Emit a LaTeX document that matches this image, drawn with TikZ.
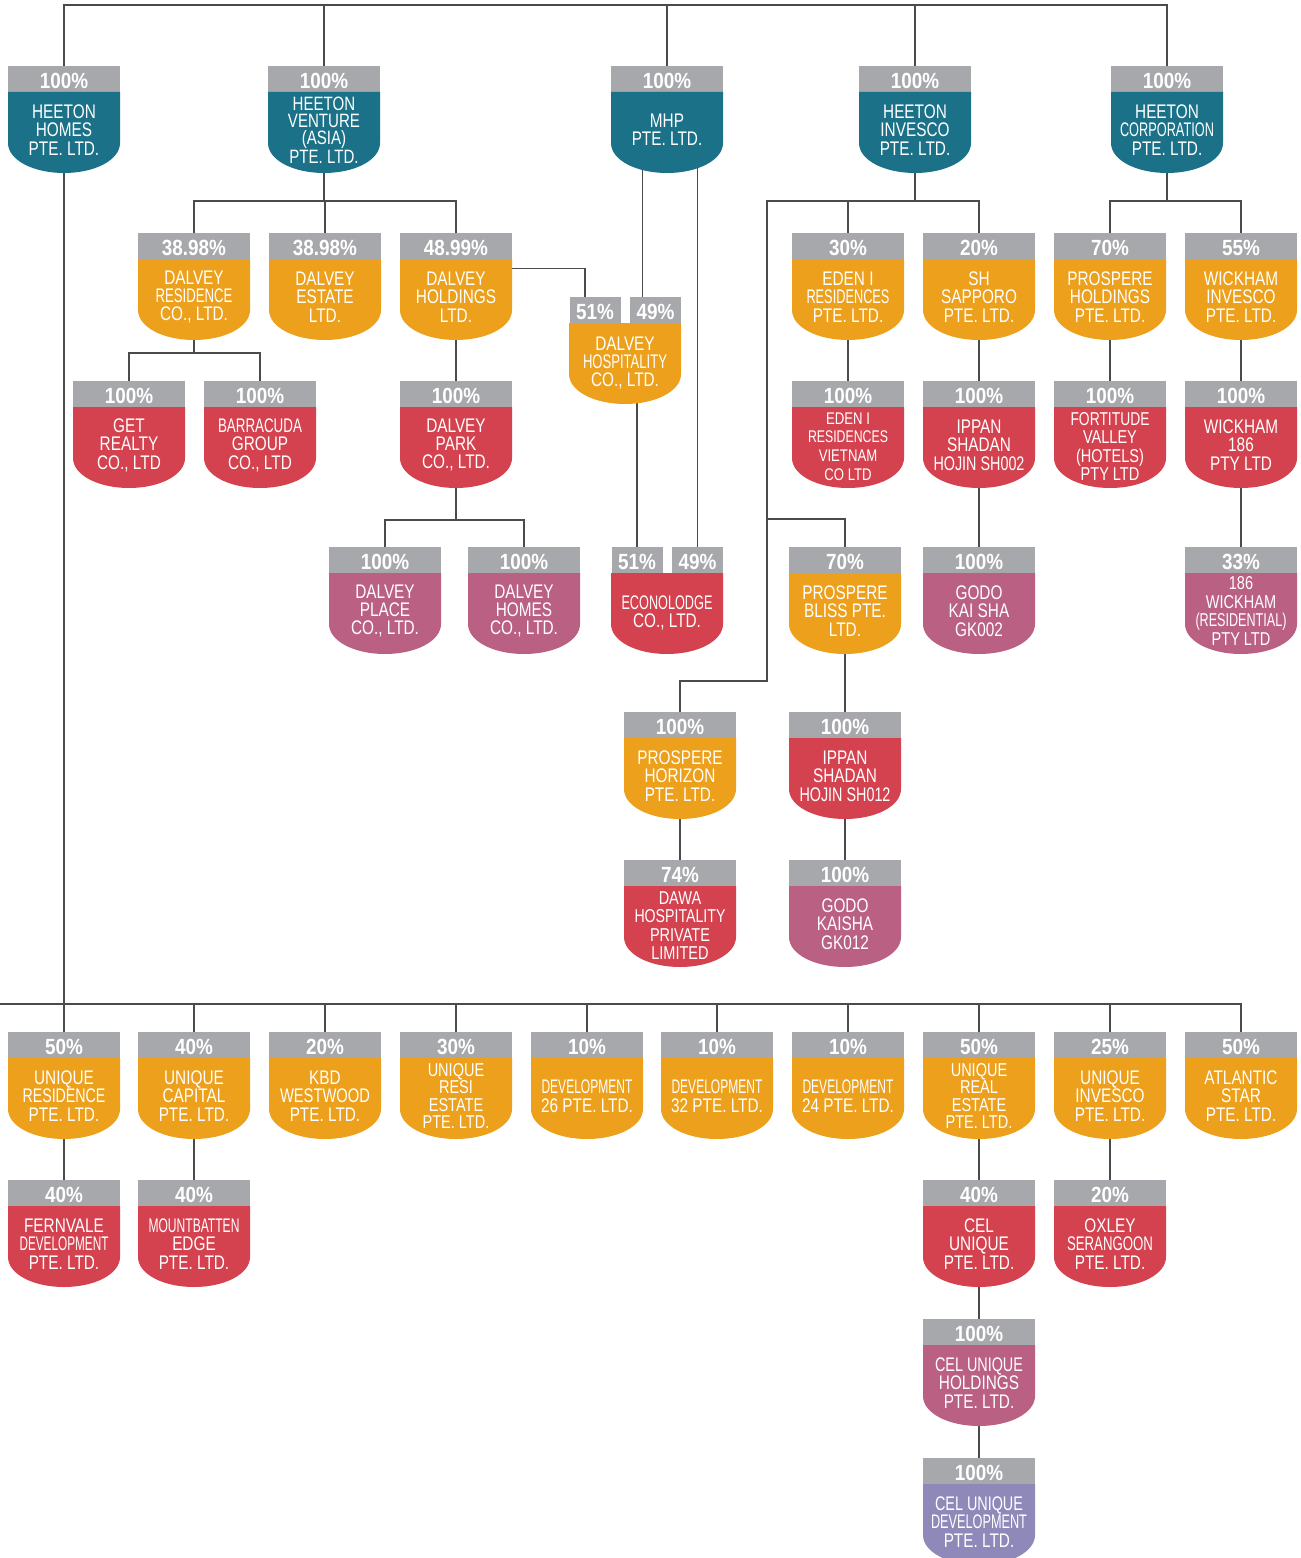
\documentclass[tikz,border=0pt]{standalone}
\usepackage{fontspec}
\setmainfont{Liberation Sans}[FakeStretch=0.78]
\newfontfamily\pctfont{Liberation Sans}[FakeStretch=0.86]
\usepackage{tikz}
\usetikzlibrary{calc}
\usetikzlibrary{backgrounds}
\definecolor{htteal}{RGB}{27,114,136}
\definecolor{htorange}{RGB}{236,160,28}
\definecolor{htred}{RGB}{212,66,79}
\definecolor{htpink}{RGB}{186,96,131}
\definecolor{htpurple}{RGB}{143,137,186}
\definecolor{htgrey}{RGB}{167,168,171}
\definecolor{htwire}{RGB}{75,75,75}
\tikzstyle{pcthead} = [anchor=north, fill=htgrey, text=white, inner sep=0pt,
minimum width=2.24cm, minimum height=0.52cm, text height=10pt, text depth=0pt,
font=\pctfont\bfseries\fontsize{12.5}{12.5}\selectfont]
\tikzstyle{firmname} = [align=center, text=white, inner sep=0pt,
font=\fontsize{11.2}{10.5}\selectfont]
\tikzstyle{fourline} = [font=\fontsize{10.6}{10.5}\selectfont]
\tikzstyle{line} = [draw, line width=0.8pt, htwire]
%% squeeze one long line of a name to a width
\newsavebox\fitbox
\newcommand{\fit}[2][1.8cm]{\sbox\fitbox{#2}%
  \ifdim\wd\fitbox>#1\resizebox{#1}{\height}{#2}\else\usebox\fitbox\fi}
%% one company: [name opts]{id}{x}{y}{share}{colour}{name}
\newcommand{\firm}[7][]{%
  \node[pcthead] (#2-p) at (#3,#4) {#5};
  \fill[#6] (#3-56,#4+26) -- (#3-56,#4+77)
    .. controls (#3-56,#4+94) and (#3-31,#4+107) .. (#3,#4+107)
    .. controls (#3+31,#4+107) and (#3+56,#4+94) .. (#3+56,#4+77)
    -- (#3+56,#4+26) -- cycle;
  \node[firmname,#1] (#2) at (#3,#4+64) {#7};
  \coordinate (#2-s) at (#3,#4+100);
}
%% company with two holders: {id}{x}{y}{left share}{right share}{colour}{name}
\newcommand{\firmsplit}[7]{%
  \node[pcthead, minimum width=1.02cm] (#1-l) at (#2-30,#3) {#4};
  \node[pcthead, minimum width=1.02cm] (#1-r) at (#2+30.5,#3) {#5};
  \fill[#6] (#2-56,#3+26) -- (#2-56,#3+77)
    .. controls (#2-56,#3+94) and (#2-31,#3+107) .. (#2,#3+107)
    .. controls (#2+31,#3+107) and (#2+56,#3+94) .. (#2+56,#3+77)
    -- (#2+56,#3+26) -- cycle;
  \node[firmname] (#1) at (#2,#3+66) {#7};
  \coordinate (#1-s) at (#2,#3+100);
}

\begin{document}
\begin{tikzpicture}[x=0.02cm, y=-0.02cm]
  \useasboundingbox (0,0) rectangle (1301,1558);
  %% Holding companies
  \firm{hh}{64}{66}{100\%}{htteal}{HEETON\\HOMES\\PTE. LTD.}
  \firm[font=\fontsize{11}{9.8}\selectfont]{hva}{324}{66}{100\%}{htteal}{HEETON\\VENTURE\\(ASIA)\\PTE. LTD.}
  \firm{mhp}{667}{66}{100\%}{htteal}{MHP\\PTE. LTD.}
  \firm{hinv}{915}{66}{100\%}{htteal}{HEETON\\INVESCO\\PTE. LTD.}
  \firm{hcorp}{1167}{66}{100\%}{htteal}{HEETON\\\fit[1.88cm]{CORPORATION}\\PTE. LTD.}
  %%
  \firm{dres}{194}{233}{38.98\%}{htorange}{DALVEY\\\fit[1.54cm]{RESIDENCE}\\CO., LTD.}
  \firm{dest}{325}{233}{38.98\%}{htorange}{DALVEY\\ESTATE\\LTD.}
  \firm{dhold}{456}{233}{48.99\%}{htorange}{DALVEY\\HOLDINGS\\LTD.}
  \firm{eden}{848}{233}{30\%}{htorange}{EDEN I\\\fit[1.66cm]{RESIDENCES}\\PTE. LTD.}
  \firm{shs}{979}{233}{20\%}{htorange}{SH\\SAPPORO\\PTE. LTD.}
  \firm{phold}{1110}{233}{70\%}{htorange}{PROSPERE\\HOLDINGS\\PTE. LTD.}
  \firm{winv}{1241}{233}{55\%}{htorange}{WICKHAM\\INVESCO\\PTE. LTD.}
  \firmsplit{dhos}{625}{297}{51\%}{49\%}{htorange}{DALVEY\\\fit[1.68cm]{HOSPITALITY}\\CO., LTD.}
  %%
  \firm{getr}{129}{381}{100\%}{htred}{GET\\REALTY\\CO., LTD}
  \firm{barr}{260}{381}{100\%}{htred}{\fit[1.68cm]{BARRACUDA}\\GROUP\\CO., LTD}
  \firm{dpark}{456}{381}{100\%}{htred}{DALVEY\\PARK\\CO., LTD.}
  \firm[font=\fontsize{9.6}{10.6}\selectfont, yshift=-0.03cm]{edenv}{848}{381}{100\%}{htred}{EDEN I\\\fit[1.6cm]{RESIDENCES}\\VIETNAM\\CO LTD}
  \firm{ippan2}{979}{381}{100\%}{htred}{IPPAN\\SHADAN\\\fit[1.82cm]{HOJIN SH002}}
  \firm[fourline, yshift=-0.03cm]{fort}{1110}{381}{100\%}{htred}{\fit[1.58cm]{FORTITUDE}\\VALLEY\\(HOTELS)\\PTY LTD}
  \firm{w186}{1241}{381}{100\%}{htred}{WICKHAM\\186\\PTY LTD}
  %%
  \firm{dplace}{385}{547}{100\%}{htpink}{DALVEY\\PLACE\\CO., LTD.}
  \firm{dhomes}{524}{547}{100\%}{htpink}{DALVEY\\HOMES\\CO., LTD.}
  \firmsplit{econo}{667}{547}{51\%}{49\%}{htred}{\fit[1.82cm]{ECONOLODGE}\\CO., LTD.}
  \firm{pbliss}{845}{547}{70\%}{htorange}{PROSPERE\\BLISS PTE.\\LTD.}
  \firm{godo2}{979}{547}{100\%}{htpink}{GODO\\KAI SHA\\GK002}
  \firm[fourline]{w186r}{1241}{547}{33\%}{htpink}{186\\WICKHAM\\\fit[1.82cm]{(RESIDENTIAL)}\\PTY LTD}
  %%
  \firm{phor}{680}{712}{100\%}{htorange}{PROSPERE\\HORIZON\\PTE. LTD.}
  \firm{ippan12}{845}{712}{100\%}{htred}{IPPAN\\SHADAN\\\fit[1.82cm]{HOJIN SH012}}
  \firm[fourline, yshift=-0.03cm]{dawa}{680}{860}{74\%}{htred}{DAWA\\\fit[1.82cm]{HOSPITALITY}\\PRIVATE\\LIMITED}
  \firm{godo12}{845}{860}{100\%}{htpink}{GODO\\KAISHA\\GK012}
  %% Associates of Heeton Homes
  \firm{ures}{64}{1032}{50\%}{htorange}{UNIQUE\\\fit[1.66cm]{RESIDENCE}\\PTE. LTD.}
  \firm{ucap}{194}{1032}{40\%}{htorange}{UNIQUE\\CAPITAL\\PTE. LTD.}
  \firm{kbd}{325}{1032}{20\%}{htorange}{KBD\\\fit[1.8cm]{WESTWOOD}\\PTE. LTD.}
  \firm[font=\fontsize{10.6}{9.9}\selectfont]{uresi}{456}{1032}{30\%}{htorange}{UNIQUE\\RESI\\ESTATE\\PTE. LTD.}
  \firm{dev26}{587}{1032}{10\%}{htorange}{\fit[1.82cm]{DEVELOPMENT}\\26 PTE. LTD.}
  \firm{dev32}{717}{1032}{10\%}{htorange}{\fit[1.82cm]{DEVELOPMENT}\\32 PTE. LTD.}
  \firm{dev24}{848}{1032}{10\%}{htorange}{\fit[1.82cm]{DEVELOPMENT}\\24 PTE. LTD.}
  \firm[font=\fontsize{10.6}{9.9}\selectfont]{ureal}{979}{1032}{50\%}{htorange}{UNIQUE\\REAL\\ESTATE\\PTE. LTD.}
  \firm{uinv}{1110}{1032}{25\%}{htorange}{UNIQUE\\INVESCO\\PTE. LTD.}
  \firm{atl}{1241}{1032}{50\%}{htorange}{ATLANTIC\\STAR\\PTE. LTD.}
  %%
  \firm{fern}{64}{1180}{40\%}{htred}{FERNVALE\\\fit[1.78cm]{DEVELOPMENT}\\PTE. LTD.}
  \firm{mount}{194}{1180}{40\%}{htred}{\fit[1.82cm]{MOUNTBATTEN}\\EDGE\\PTE. LTD.}
  \firm{celu}{979}{1180}{40\%}{htred}{CEL\\UNIQUE\\PTE. LTD.}
  \firm{oxley}{1110}{1180}{20\%}{htred}{OXLEY\\\fit[1.72cm]{SERANGOON}\\PTE. LTD.}
  \firm{celh}{979}{1319}{100\%}{htpink}{\fit[1.76cm]{CEL UNIQUE}\\HOLDINGS\\PTE. LTD.}
  \firm{celd}{979}{1458}{100\%}{htpurple}{\fit[1.76cm]{CEL UNIQUE}\\\fit[1.92cm]{DEVELOPMENT}\\PTE. LTD.}
  %% Lines
  \begin{scope}[on background layer]
    \coordinate (bus1) at (0,5);
    \coordinate (bus2) at (0,1004);
    \coordinate (j1) at (324,201);
    \coordinate (j2) at (194,353);
    \coordinate (j3) at (456,520);
    \coordinate (j4) at (915,201);
    \coordinate (j5) at (1167,201);
    \coordinate (k1) at (767,201);
    \coordinate (k2) at (767,519);
    \coordinate (k3) at (767,681);
    \coordinate (m1) at ($(dhos-r.north west)+(13,0)$);
    %%
    \path [line] (hh-p.north) |- (hcorp-p.north |- bus1) -- (hcorp-p.north);
    \foreach \n in {hva,mhp,hinv}
      \path [line] (\n-p.north) -- (\n-p.north |- bus1);
    %% Heeton Venture (Asia)
    \path [line] (hva-s) -- (j1);
    \path [line] (dres-p.north) |- (j1) -| (dhold-p.north);
    \path [line] (dest-p.north) -- (dest-p.north |- j1);
    \path [line] (dres-s) -- (j2);
    \path [line] (getr-p.north) |- (j2) -| (barr-p.north);
    \path [line] (dpark-s) -- (j3);
    \path [line] (dplace-p.north) |- (j3) -| (dhomes-p.north);
    \path [line] (dhold-p.south) ++(0,9) -| ($(dhos-l.north)+(-10,0)$);
    %% MHP
    \path [line] (m1) -- (m1 |- mhp-s);
    \path [line] (econo-r.north) -- (econo-r.north |- mhp-s);
    \path [line] (econo-l.north) -- (econo-l.north |- dhos-s);
    %% Heeton Invesco
    \path [line] (hinv-s) -- (j4);
    \path [line] (shs-p.north) |- (k1) -- (k3) -| (phor-p.north);
    \path [line] (eden-p.north) -- (eden-p.north |- k1);
    \path [line] (k2) -| (pbliss-p.north);
    %% Heeton Corporation
    \path [line] (hcorp-s) -- (j5);
    \path [line] (phold-p.north) |- (j5) -| (winv-p.north);
    %% Heeton Homes
    \path [line] (hh-s) -- (ures-p.north);
    \path [line] (bus2) -| (atl-p.north);
    \foreach \n in {ucap,kbd,uresi,dev26,dev32,dev24,ureal,uinv}
      \path [line] (\n-p.north) -- (\n-p.north |- bus2);
    %% straight down
    \foreach \a/\b in {dhold/dpark,eden/edenv,shs/ippan2,ippan2/godo2,
      phold/fort,winv/w186,w186/w186r,pbliss/ippan12,ippan12/godo12,
      phor/dawa,ures/fern,ucap/mount,ureal/celu,celu/celh,celh/celd,
      uinv/oxley}
      \path [line] (\a-s) -- (\b-p.north);
  \end{scope}
\end{tikzpicture}
\end{document}
